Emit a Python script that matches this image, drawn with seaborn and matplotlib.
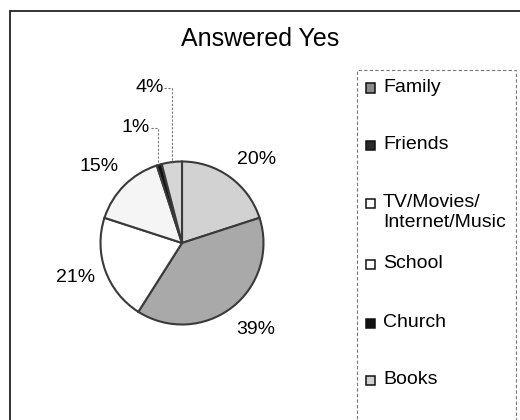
import matplotlib
matplotlib.use("Agg")
import matplotlib.pyplot as plt
import seaborn as sns
from matplotlib.patches import Rectangle

categories = ["Family", "Friends", "TV/Movies/\nInternet/Music", "School", "Church", "Books"]
values = [20, 39, 21, 15, 1, 4]
labels = ["20%", "39%", "21%", "15%", "1%", "4%"]
colors = ["#d2d2d2", "#a9a9a9", "#ffffff", "#f5f5f5", "#111111", "#d6d6d6"]
legend_colors = ["#8c8c8c", "#2a2a2a", "#ffffff", "#ffffff", "#111111", "#d0d0d0"]

sns.set_theme(style="white")
plt.rcParams["font.family"] = ["Liberation Sans", "DejaVu Sans"]

W, H = 520, 420
fig = plt.figure(figsize=(W / 100, H / 100), dpi=100)
fig.patch.set_facecolor("white")

def fx(x):
    return x / W

def fy(y):
    return 1 - y / H

# outer chart frame (left and top edges visible)
fig.add_artist(Rectangle((fx(10), fy(440)), (560 - 10) / W, (440 - 11) / H,
                         transform=fig.transFigure, fill=False,
                         edgecolor="#222222", linewidth=1.3))

cx, cy, R = 182, 243, 81.5
half = 130
ax = fig.add_axes([(cx - half) / W, (H - cy - half) / H, 2 * half / W, 2 * half / H])

wedges, _ = ax.pie(values, colors=colors, startangle=90, counterclock=False,
                   radius=1.0, wedgeprops=dict(edgecolor="#3a3a3a", linewidth=1.5))
lim = half / R
ax.set_xlim(-lim, lim)
ax.set_ylim(-lim, lim)
ax.set_aspect("equal")
ax.axis("off")

def px(x, y):
    return (x - cx) / R, (cy - y) / R

label_pos = [(257, 159), (256, 330), (76, 277), (99, 166), (136, 127), (150, 88)]
for lab, (x, y) in zip(labels, label_pos):
    tx, ty = px(x, y)
    ax.text(tx, ty, lab, ha="center", va="center", fontsize=14, color="black", clip_on=False)

# leader lines for the small slices
for (x0, y0), xv in [((151, 128), 158), ((164, 88), 172)]:
    a = px(x0, y0)
    b = px(xv, y0)
    c = px(xv, 163)
    ax.plot([a[0], b[0], c[0]], [a[1], b[1], c[1]], color="#777777",
            linewidth=0.8, linestyle=(0, (2, 1.5)), clip_on=False)

fig.text(fx(260), fy(39), "Answered Yes", ha="center", va="center",
         fontsize=18, color="black")

# legend box
fig.add_artist(Rectangle((fx(357), fy(440)), (516 - 357) / W, (440 - 70) / H,
                         transform=fig.transFigure, fill=False,
                         edgecolor="#777777", linewidth=0.8, linestyle=(0, (3, 2))))

legend_y = [88, 145, 203, 264, 323, 380]
for name, col, y in zip(categories, legend_colors, legend_y):
    fig.add_artist(Rectangle((fx(366), fy(y + 4.5)), 9 / W, 9 / H,
                             transform=fig.transFigure, facecolor=col,
                             edgecolor="#111111", linewidth=1.1))
    fig.text(fx(383), fy(y - 9), name, ha="left", va="top", fontsize=14,
             color="black", linespacing=1.2)

fig.savefig("out.png", dpi=100)
